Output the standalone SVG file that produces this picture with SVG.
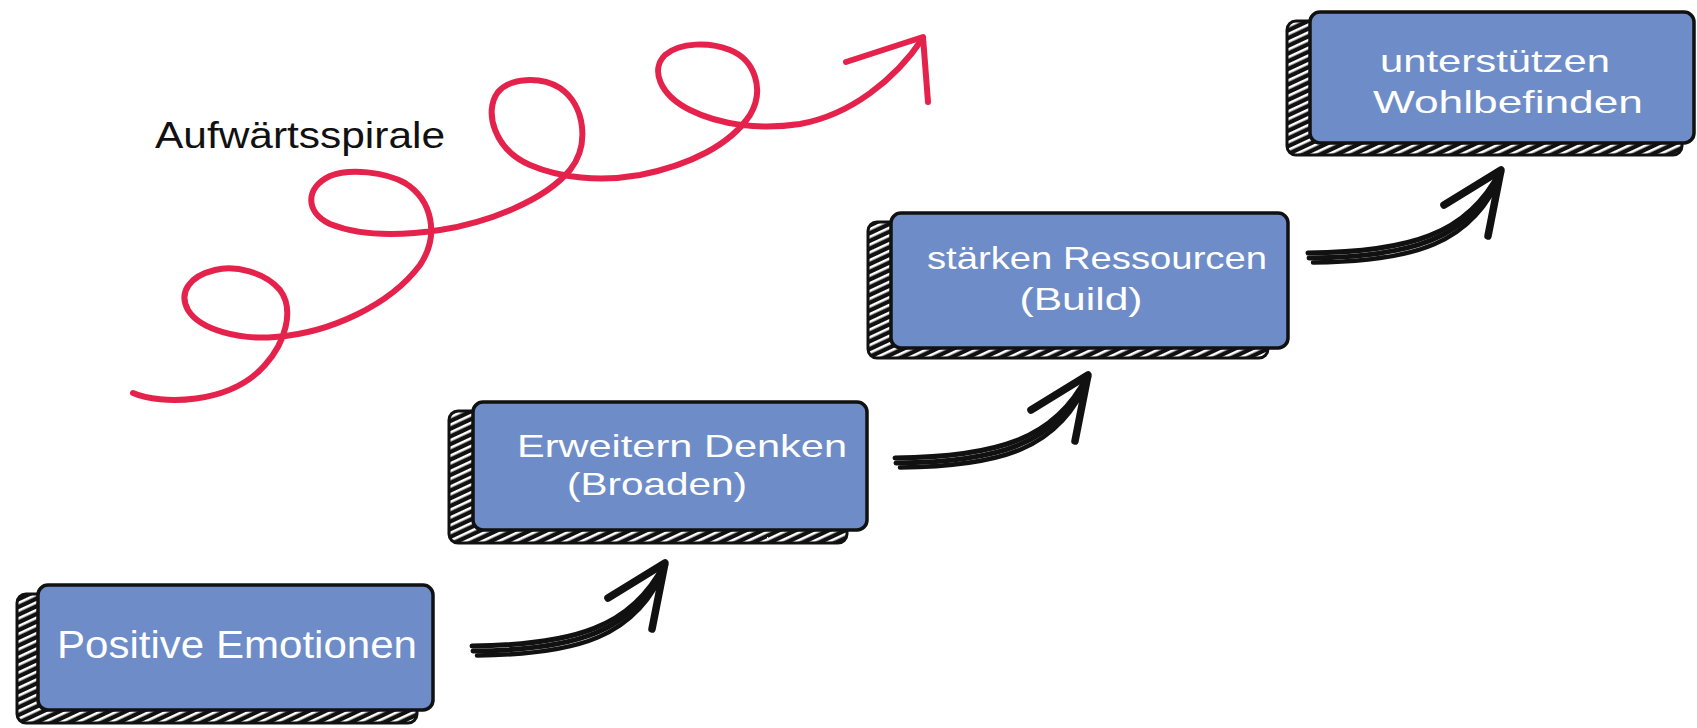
<svg xmlns="http://www.w3.org/2000/svg" xmlns:xlink="http://www.w3.org/1999/xlink" width="1697" height="728" viewBox="0 0 1697 728">
  <style>
    .blue { fill: #6e8dc8; stroke: #111; stroke-width: 3.5; }
    .ext { fill: url(#hatch); stroke: #111; stroke-width: 3; }
    .lbl { font-family: "Liberation Sans", "DejaVu Sans", sans-serif; font-size: 38px; fill: #ffffff; text-anchor: middle; }
    .lbl2 { font-family: "Liberation Sans", "DejaVu Sans", sans-serif; font-size: 32px; fill: #ffffff; text-anchor: middle; }
    .title { font-family: "Liberation Sans", "DejaVu Sans", sans-serif; font-size: 36px; fill: #111; }
    .brush { fill: none; stroke: #111; stroke-linecap: round; stroke-linejoin: round; }
    .spiral { fill: none; stroke: #e5224b; stroke-width: 6; stroke-linecap: round; stroke-linejoin: round; }
  </style>
  <defs>
    <pattern id="hatch" width="7" height="7" patternUnits="userSpaceOnUse" patternTransform="rotate(-25)">
      <rect width="7" height="7" fill="#111"/>
      <rect y="0" width="7" height="2.6" fill="#fff"/>
    </pattern>
    <g id="arw">
      <path class="brush" stroke-width="5" d="M0,-4 C100,-5 160,-22 192,-86"/>
      <path class="brush" stroke-width="5" d="M1,1 C102,0 163,-17 193,-86"/>
      <path class="brush" stroke-width="4.5" d="M5,5.5 C104,4.5 166,-12 194,-85"/>
      <path class="brush" stroke-width="7.5" d="M136,-52 L193,-87 L180,-21"/>
    </g>
  </defs>

  <rect width="1697" height="728" fill="#ffffff"/>

  <g id="spiral">
    <path class="spiral" d="M133,393 C160,405 230,405 265,365 C285,343 295,310 280,290 C265,272 235,265 215,270 C190,276 178,292 188,310 C200,330 240,340 275,337 C330,333 390,305 420,265 C440,235 432,200 405,183 C385,172 350,168 330,176 C305,188 305,212 330,224 C360,236 400,236 440,230 C490,222 545,200 570,170 C590,145 585,105 560,88 C540,76 510,78 498,92 C483,112 495,150 530,165 C560,178 600,182 640,175 C690,165 730,145 750,115 C765,90 755,60 730,50 C710,42 680,42 665,55 C650,70 660,95 690,110 C720,125 760,130 800,124 C850,115 895,80 923,38"/>
    <path class="spiral" stroke-width="7" d="M846,62 L923,37 L928,102"/>
    <text class="title" x="155" y="148" textLength="290" lengthAdjust="spacingAndGlyphs">Aufwärtsspirale</text>
  </g>

  <g id="connectors">
    <use xlink:href="#arw" href="#arw" transform="translate(472,650)"/>
    <use xlink:href="#arw" href="#arw" transform="translate(895,462)"/>
    <use xlink:href="#arw" href="#arw" transform="translate(1308,257)"/>
  </g>

  <g id="node-positive-emotionen">
    <rect class="ext" x="17" y="594" width="400" height="129" rx="9"/>
    <rect class="blue" x="38" y="585" width="395" height="125" rx="10"/>
    <text class="lbl" x="237" y="658" textLength="360" lengthAdjust="spacingAndGlyphs">Positive Emotionen</text>
  </g>

  <g id="node-erweitern-denken">
    <rect class="ext" x="449" y="411" width="398" height="132" rx="9"/>
    <rect class="blue" x="473" y="402" width="394" height="128" rx="10"/>
    <text class="lbl2" x="682" y="457" textLength="330" lengthAdjust="spacingAndGlyphs">Erweitern Denken</text>
    <text class="lbl2" x="657" y="495" textLength="180" lengthAdjust="spacingAndGlyphs">(Broaden)</text>
  </g>

  <g id="node-staerken-ressourcen">
    <rect class="ext" x="868" y="222" width="400" height="136" rx="9"/>
    <rect class="blue" x="891" y="213" width="397" height="135" rx="10"/>
    <text class="lbl2" x="1097" y="269" textLength="340" lengthAdjust="spacingAndGlyphs">stärken Ressourcen</text>
    <text class="lbl2" x="1081" y="310" textLength="123" lengthAdjust="spacingAndGlyphs">(Build)</text>
  </g>

  <g id="node-unterstuetzen-wohlbefinden">
    <rect class="ext" x="1287" y="21" width="395" height="134" rx="9"/>
    <rect class="blue" x="1310" y="12" width="384" height="131" rx="10"/>
    <text class="lbl2" x="1495" y="72" textLength="230" lengthAdjust="spacingAndGlyphs">unterstützen</text>
    <text class="lbl2" x="1508" y="113" textLength="270" lengthAdjust="spacingAndGlyphs">Wohlbefinden</text>
  </g>
</svg>
